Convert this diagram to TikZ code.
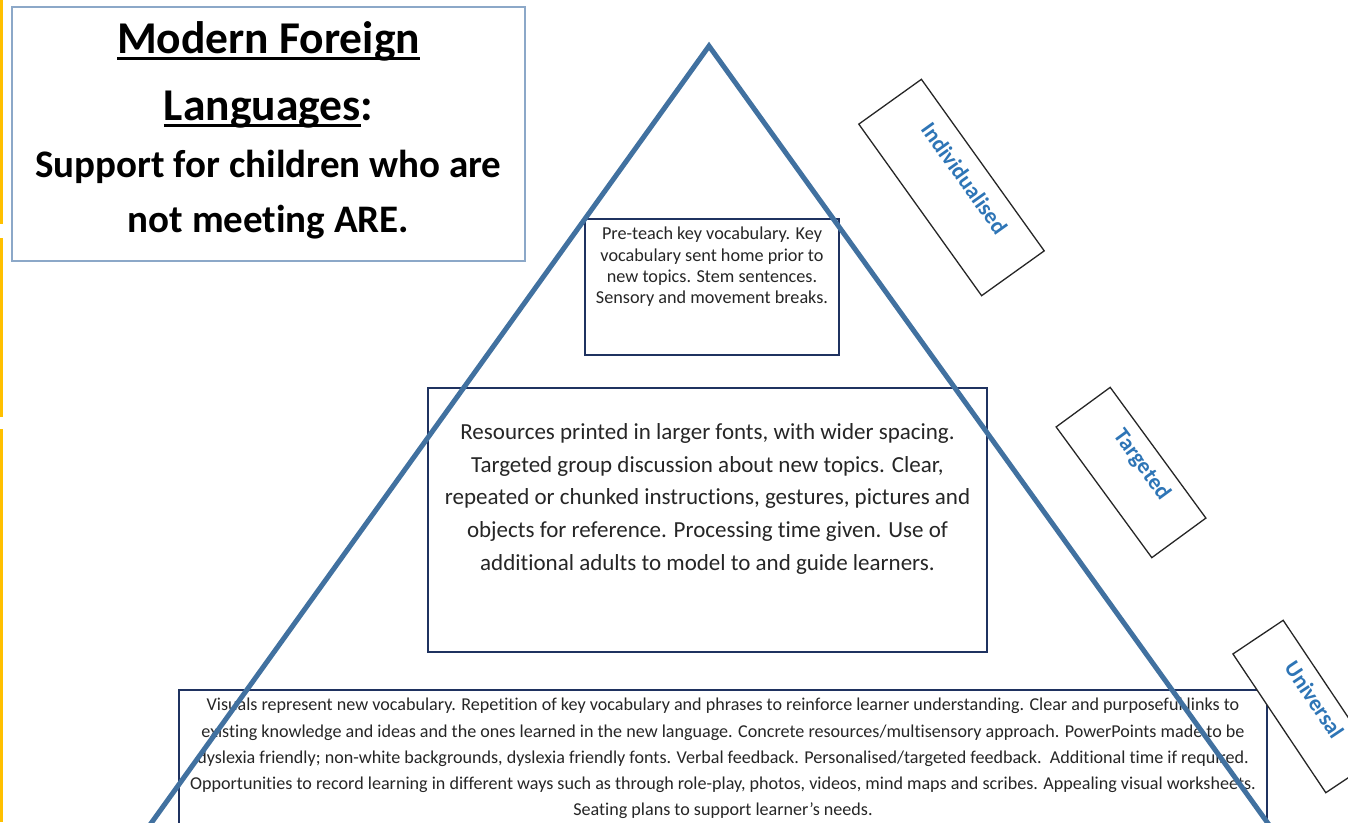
\documentclass[tikz,border=0pt]{standalone}
\usepackage{fontspec}
\setmainfont{Carlito}[Ligatures=NoCommon]
\usetikzlibrary{calc}
\definecolor{tri}{RGB}{65,113,160}
\definecolor{navy}{RGB}{31,50,96}
\definecolor{tbox}{RGB}{140,168,200}
\definecolor{lbl}{RGB}{46,117,182}
\definecolor{ylw}{RGB}{255,192,0}
\newcommand\ulbar[2]{\leavevmode\setbox0\hbox{#2}\rlap{\rule[-#1]{\wd0}{2.6pt}}\box0}
\newcommand\titleline[3]{{\fontsize{#1}{#2}\selectfont\spaceskip=\fontdimen2\font\relax\xspaceskip=\fontdimen2\font\relax #3\par}}
\begin{document}
\begin{tikzpicture}[x=1pt,y=-1pt,
  navybox/.style={draw=navy,line width=1.3pt,fill=white,inner sep=0pt},
  lblbox/.style={draw=black!85,line width=1.3pt,fill=white,inner sep=0pt},
  lbltext/.style={text=lbl,font=\bfseries\fontsize{22.5}{26}\selectfont,inner sep=0pt},
  bodytext/.style={align=center,inner sep=0pt,anchor=north,text=black!85}]
\useasboundingbox (0,0) rectangle (1348,822);
\clip (0,0) rectangle (1348,822);
% yellow edge
\draw[ylw,line width=2.5pt] (1.25,0) -- (1.25,224);
\draw[ylw,line width=2.5pt] (1.25,238) -- (1.25,417);
\draw[ylw,line width=2.5pt] (1.25,429) -- (1.25,822);
% title
\node[draw=tbox,line width=1.2pt,minimum width=513pt,minimum height=254pt,inner sep=0pt] (tbx) at (268.5,134) {};
\node[align=center,inner sep=0pt,anchor=base,text width=505pt,font=\bfseries] (title) at (268.5,53) {%
  \titleline{45.5}{60}{\ulbar{6.5pt}{Modern Foreign}}
  \titleline{45.5}{67}{\ulbar{6.5pt}{Languages}:}
  \titleline{39}{57}{Support for children who are}
  \titleline{39}{55}{not meeting ARE.}};
% boxes
\node[navybox,minimum width=254pt,minimum height=136pt] (top) at (712,287) {};
\node[navybox,minimum width=559pt,minimum height=264pt] (mid) at (707.5,520) {};
\node[navybox,minimum width=1088pt,minimum height=150pt] (bot) at (723,765) {};
\node[bodytext,font=\fontsize{18.2}{21.3}\selectfont] (ttop) at (712,227) {Pre-teach key vocabulary. Key\\vocabulary sent home prior to\\new topics. Stem sentences.\\Sensory and movement breaks.};
\node[bodytext,font=\fontsize{23}{32.6}\selectfont] (tmid) at (707.5,423.5) {Resources printed in larger fonts, with wider spacing.\\Targeted group discussion about new topics. Clear,\\repeated or chunked instructions, gestures, pictures and\\objects for reference. Processing time given. Use of\\additional adults to model to and guide learners.};
\node[bodytext,font=\fontsize{18.1}{26.25}\selectfont] (tbot) at (723,698) {Visuals represent new vocabulary. Repetition of key vocabulary and phrases to reinforce learner understanding. Clear and purposeful links to\\existing knowledge and ideas and the ones learned in the new language. Concrete resources/multisensory approach. PowerPoints made to be\\dyslexia friendly; non-white backgrounds, dyslexia friendly fonts. Verbal feedback. Personalised/targeted feedback.\ \ Additional time if required.\\Opportunities to record learning in different ways such as through role-play, photos, videos, mind maps and scribes. Appealing visual worksheets.\\Seating plans to support learner’s needs.};
% triangle
\coordinate (apex) at (709,46);
\coordinate (bl) at (152,822);
\coordinate (br) at (1267,822);
\draw[tri,line width=5pt,line join=miter] ($(apex)!1.03!(bl)$) -- (apex) -- ($(apex)!1.03!(br)$);
% level labels
\node[lblbox,minimum width=211pt,minimum height=77pt,rotate=-54.4] (ind) at (951.5,187.5) {};
\node[lbltext,rotate=-54.4] at ($(ind.center)!16pt!(ind.north)$) {Individualised};
\node[lblbox,minimum width=162pt,minimum height=67pt,rotate=-53.8] (tar) at (1131,472.5) {};
\node[lbltext,rotate=-53.8] at ($(tar.center)!13pt!(tar.north)$) {Targeted};
\node[lblbox,minimum width=167pt,minimum height=60.5pt,rotate=-56.2] (uni) at (1304.5,706.5) {};
\node[lbltext,rotate=-56.2] at ($(uni.center)!12pt!(uni.north)$) {Universal};
\end{tikzpicture}
\end{document}
